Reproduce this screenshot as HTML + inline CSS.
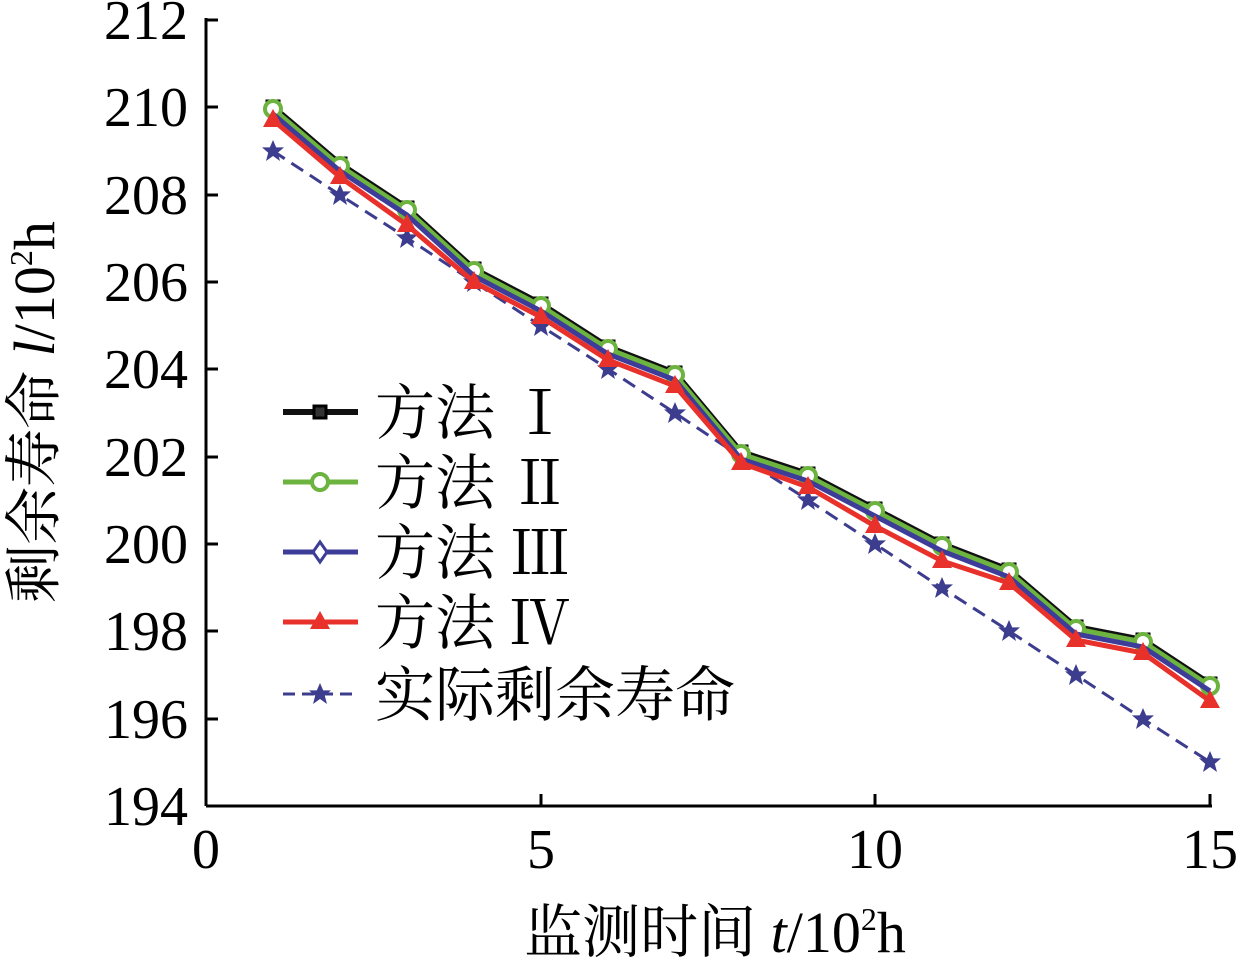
<!DOCTYPE html>
<html><head><meta charset="utf-8"><style>body{margin:0;background:#fff}</style></head>
<body>
<svg width="1237" height="963" viewBox="0 0 1237 963" xmlns="http://www.w3.org/2000/svg" font-family="'Liberation Serif','Noto Serif CJK SC',serif">
<defs>
<polygon id="star" points="0,-11 3.2,-3.6 11,-3.6 4.8,1.8 7,10 0,5 -7,10 -4.8,1.8 -11,-3.6 -3.2,-3.6" fill="#3d3d8f"/>
</defs>
<g stroke="#000" stroke-width="3" fill="none">
<line x1="206" y1="18" x2="206" y2="806"/>
<line x1="206" y1="806" x2="1212" y2="806"/>
</g>
<g stroke="#000" stroke-width="3">
<line x1="206" y1="20" x2="218" y2="20"/><line x1="206" y1="107" x2="218" y2="107"/>
<line x1="206" y1="195" x2="218" y2="195"/><line x1="206" y1="282" x2="218" y2="282"/>
<line x1="206" y1="369" x2="218" y2="369"/><line x1="206" y1="457" x2="218" y2="457"/>
<line x1="206" y1="544" x2="218" y2="544"/><line x1="206" y1="631" x2="218" y2="631"/>
<line x1="206" y1="719" x2="218" y2="719"/>
<line x1="541" y1="806" x2="541" y2="794"/><line x1="875" y1="806" x2="875" y2="794"/><line x1="1210" y1="806" x2="1210" y2="794"/>
</g>
<g font-size="56" text-anchor="end" fill="#000">
<text x="188" y="39">212</text><text x="188" y="126">210</text><text x="188" y="214">208</text>
<text x="188" y="301">206</text><text x="188" y="388">204</text><text x="188" y="476">202</text>
<text x="188" y="563">200</text><text x="188" y="650">198</text><text x="188" y="738">196</text>
<text x="188" y="825">194</text>
</g>
<g font-size="56" text-anchor="middle">
<text x="206" y="868">0</text><text x="541" y="868">5</text><text x="875" y="868">10</text><text x="1210" y="868">15</text>
</g>
<text x="715" y="952" font-size="58" text-anchor="middle">监测时间 <tspan font-style="italic">t</tspan>/10<tspan font-size="32" dy="-22">2</tspan><tspan dy="22">h</tspan></text>
<text transform="translate(54,412) rotate(-90)" font-size="58" text-anchor="middle">剩余寿命 <tspan font-style="italic">l</tspan>/10<tspan font-size="32" dy="-22">2</tspan><tspan dy="22">h</tspan></text>

<polyline fill="none" stroke="#3d3d8f" stroke-width="3" stroke-dasharray="14,8" points="273,151 340,195 407,238 474,282 541,326 608,369 675,413 741,457 808,500 875,544 942,588 1009,631 1076,675 1143,719 1210,762"/>
<g>
<use href="#star" x="273" y="151"/><use href="#star" x="340" y="195"/><use href="#star" x="407" y="238"/><use href="#star" x="474" y="282"/><use href="#star" x="541" y="326"/><use href="#star" x="608" y="369"/><use href="#star" x="675" y="413"/><use href="#star" x="741" y="457"/><use href="#star" x="808" y="500"/><use href="#star" x="875" y="544"/><use href="#star" x="942" y="588"/><use href="#star" x="1009" y="631"/><use href="#star" x="1076" y="675"/><use href="#star" x="1143" y="719"/><use href="#star" x="1210" y="762"/>
</g>
<polyline fill="none" stroke="#111" stroke-width="6" points="273,107 340,164 407,208 474,269 541,304 608,347 675,373 741,452 808,474 875,509 942,544 1009,570 1076,627 1143,640 1210,684"/>
<g fill="#333" stroke="#000" stroke-width="3">
<rect x="267" y="101" width="12" height="12"/><rect x="334" y="158" width="12" height="12"/><rect x="401" y="202" width="12" height="12"/><rect x="468" y="263" width="12" height="12"/><rect x="535" y="298" width="12" height="12"/><rect x="602" y="341" width="12" height="12"/><rect x="669" y="367" width="12" height="12"/><rect x="735" y="446" width="12" height="12"/><rect x="802" y="468" width="12" height="12"/><rect x="869" y="503" width="12" height="12"/><rect x="936" y="538" width="12" height="12"/><rect x="1003" y="564" width="12" height="12"/><rect x="1070" y="621" width="12" height="12"/><rect x="1137" y="634" width="12" height="12"/><rect x="1204" y="678" width="12" height="12"/>
</g>
<polyline fill="none" stroke="#6cb33f" stroke-width="5" points="273,109 340,166 407,210 474,271 541,306 608,349 675,375 741,454 808,476 875,511 942,546 1009,572 1076,629 1143,642 1210,686"/>
<g fill="#fff" stroke="#6cb33f" stroke-width="4">
<circle cx="273" cy="109" r="8"/><circle cx="340" cy="166" r="8"/><circle cx="407" cy="210" r="8"/><circle cx="474" cy="271" r="8"/><circle cx="541" cy="306" r="8"/><circle cx="608" cy="349" r="8"/><circle cx="675" cy="375" r="8"/><circle cx="741" cy="454" r="8"/><circle cx="808" cy="476" r="8"/><circle cx="875" cy="511" r="8"/><circle cx="942" cy="546" r="8"/><circle cx="1009" cy="572" r="8"/><circle cx="1076" cy="629" r="8"/><circle cx="1143" cy="642" r="8"/><circle cx="1210" cy="686" r="8"/>
</g>
<polyline fill="none" stroke="#3d3d99" stroke-width="5" points="273,114 340,171 407,215 474,276 541,311 608,354 675,380 741,459 808,481 875,516 942,551 1009,577 1076,634 1143,647 1210,691"/>
<polyline fill="none" stroke="#e8312b" stroke-width="5" points="273,120 340,177 407,225 474,282 541,317 608,360 675,386 741,463 808,487 875,526 942,561 1009,583 1076,640 1143,653 1210,701"/>
<g fill="#e8312b">
<polygon points="273,109 283,127 263,127"/><polygon points="340,166 350,184 330,184"/><polygon points="407,214 417,232 397,232"/><polygon points="474,271 484,289 464,289"/><polygon points="541,306 551,324 531,324"/><polygon points="608,349 618,367 598,367"/><polygon points="675,375 685,393 665,393"/><polygon points="741,452 751,470 731,470"/><polygon points="808,476 818,494 798,494"/><polygon points="875,515 885,533 865,533"/><polygon points="942,550 952,568 932,568"/><polygon points="1009,572 1019,590 999,590"/><polygon points="1076,629 1086,647 1066,647"/><polygon points="1143,642 1153,660 1133,660"/><polygon points="1210,690 1220,708 1200,708"/>
</g>

<g font-size="60">
<line x1="283" y1="412" x2="358" y2="412" stroke="#111" stroke-width="6"/><rect x="314" y="406" width="12" height="12" fill="#333" stroke="#000" stroke-width="3"/>
<text x="375" y="434">方法 Ⅰ</text>
<line x1="283" y1="482" x2="358" y2="482" stroke="#6cb33f" stroke-width="5"/><circle cx="320" cy="482" r="8" fill="#fff" stroke="#6cb33f" stroke-width="4"/>
<text x="375" y="504">方法 Ⅱ</text>
<line x1="283" y1="552" x2="358" y2="552" stroke="#3d3d99" stroke-width="5"/><polygon points="320,542 327,552 320,562 313,552" fill="#fff" stroke="#3d3d99" stroke-width="3"/>
<text x="375" y="574">方法 Ⅲ</text>
<line x1="283" y1="622" x2="358" y2="622" stroke="#e8312b" stroke-width="5"/><polygon points="320,611 330,629 310,629" fill="#e8312b"/>
<text x="375" y="644">方法 Ⅳ</text>
<line x1="283" y1="694" x2="358" y2="694" stroke="#3d3d8f" stroke-width="3" stroke-dasharray="12,7"/><use href="#star" x="320" y="694"/>
<text x="375" y="716">实际剩余寿命</text>
</g>
</svg>
</body></html>
